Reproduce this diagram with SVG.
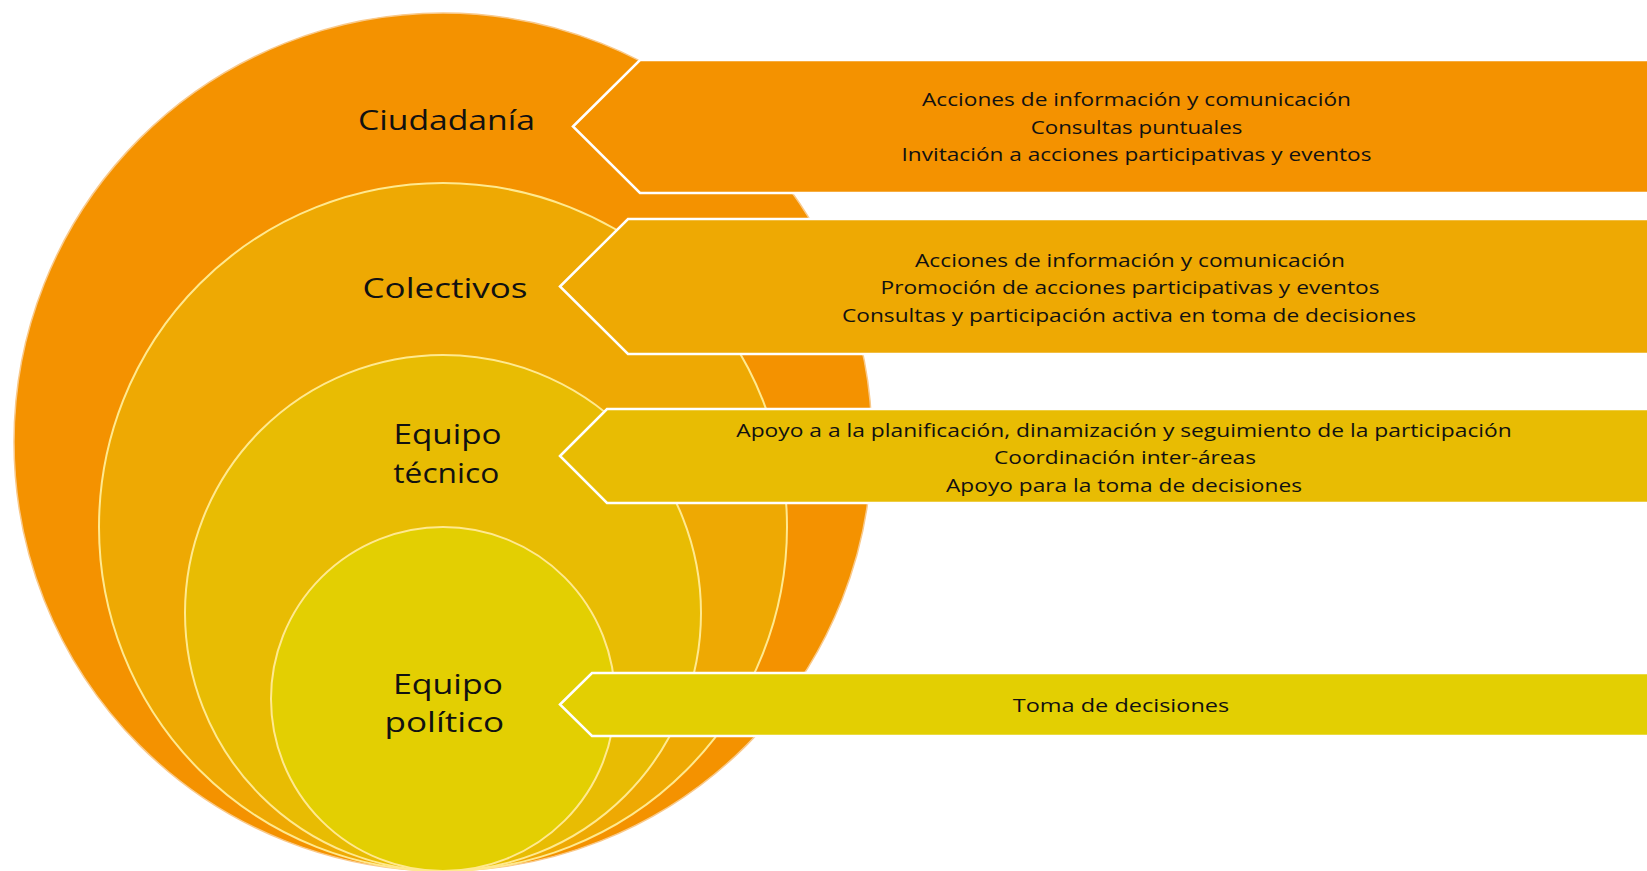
<svg xmlns="http://www.w3.org/2000/svg" width="1647" height="871" viewBox="0 0 1647 871">
<style>
.ring{stroke:#ffe98f;stroke-width:2}
.outer{stroke:#f9c98a;stroke-width:1.5}
.panel{stroke:#ffffff;stroke-width:2.5;stroke-linejoin:miter}
.lbl{font-family:"Open Sans","Liberation Sans",sans-serif;font-size:27px;fill:#111;text-anchor:middle}
.txt{font-family:"Open Sans","Liberation Sans",sans-serif;font-size:19px;fill:#111;text-anchor:middle}
</style>
<rect x="0" y="0" width="1647" height="871" fill="#ffffff"/>
<g id="node-ciudadania">
<circle class="outer" cx="443" cy="442" r="429" fill="#f49200"/>
<path class="panel" d="M573,126.5 L640,60 L1652,60 L1652,193 L640,193 Z" fill="#f49200"/>
<text class="lbl" x="446.5" y="129.5" textLength="177" lengthAdjust="spacingAndGlyphs">Ciudadanía</text>
<text class="txt" x="1136.5" y="106" textLength="429" lengthAdjust="spacingAndGlyphs">Acciones de información y comunicación</text>
<text class="txt" x="1136.5" y="134" textLength="211.6" lengthAdjust="spacingAndGlyphs">Consultas puntuales</text>
<text class="txt" x="1136.5" y="161" textLength="470" lengthAdjust="spacingAndGlyphs">Invitación a acciones participativas y eventos</text>
</g>
<g id="node-colectivos">
<circle class="ring" cx="443" cy="527" r="344" fill="#eea903"/>
<path class="panel" d="M560,286.5 L628,219 L1652,219 L1652,354 L628,354 Z" fill="#eea903"/>
<text class="lbl" x="445" y="297.5" textLength="165" lengthAdjust="spacingAndGlyphs">Colectivos</text>
<text class="txt" x="1130" y="266.5" textLength="430" lengthAdjust="spacingAndGlyphs">Acciones de información y comunicación</text>
<text class="txt" x="1130" y="294" textLength="499" lengthAdjust="spacingAndGlyphs">Promoción de acciones participativas y eventos</text>
<text class="txt" x="1129" y="321.5" textLength="574" lengthAdjust="spacingAndGlyphs">Consultas y participación activa en toma de decisiones</text>
</g>
<g id="node-equipo-tecnico">
<circle class="ring" cx="443" cy="613" r="258" fill="#e8bc03"/>
<path class="panel" d="M560,456 L607,409 L1652,409 L1652,503 L607,503 Z" fill="#e8bc03"/>
<text class="lbl" x="447.5" y="444.3" textLength="108" lengthAdjust="spacingAndGlyphs">Equipo</text>
<text class="lbl" x="446.3" y="482.7" textLength="106" lengthAdjust="spacingAndGlyphs">técnico</text>
<text class="txt" x="1124" y="436.5" textLength="775.5" lengthAdjust="spacingAndGlyphs">Apoyo a a la planificación, dinamización y seguimiento de la participación</text>
<text class="txt" x="1125" y="464" textLength="262" lengthAdjust="spacingAndGlyphs">Coordinación inter-áreas</text>
<text class="txt" x="1124" y="491.5" textLength="356" lengthAdjust="spacingAndGlyphs">Apoyo para la toma de decisiones</text>
</g>
<g id="node-equipo-politico">
<circle class="ring" cx="443" cy="699" r="172" fill="#e3cf02"/>
<path class="panel" d="M560,704.5 L592,673 L1652,673 L1652,736 L592,736 Z" fill="#e3cf02"/>
<text class="lbl" x="448" y="693.5" textLength="110" lengthAdjust="spacingAndGlyphs">Equipo</text>
<text class="lbl" x="444.3" y="732" textLength="119.5" lengthAdjust="spacingAndGlyphs">político</text>
<text class="txt" x="1121" y="712" textLength="216.4" lengthAdjust="spacingAndGlyphs">Toma de decisiones</text>
</g>
<g id="connectors"></g>
</svg>
